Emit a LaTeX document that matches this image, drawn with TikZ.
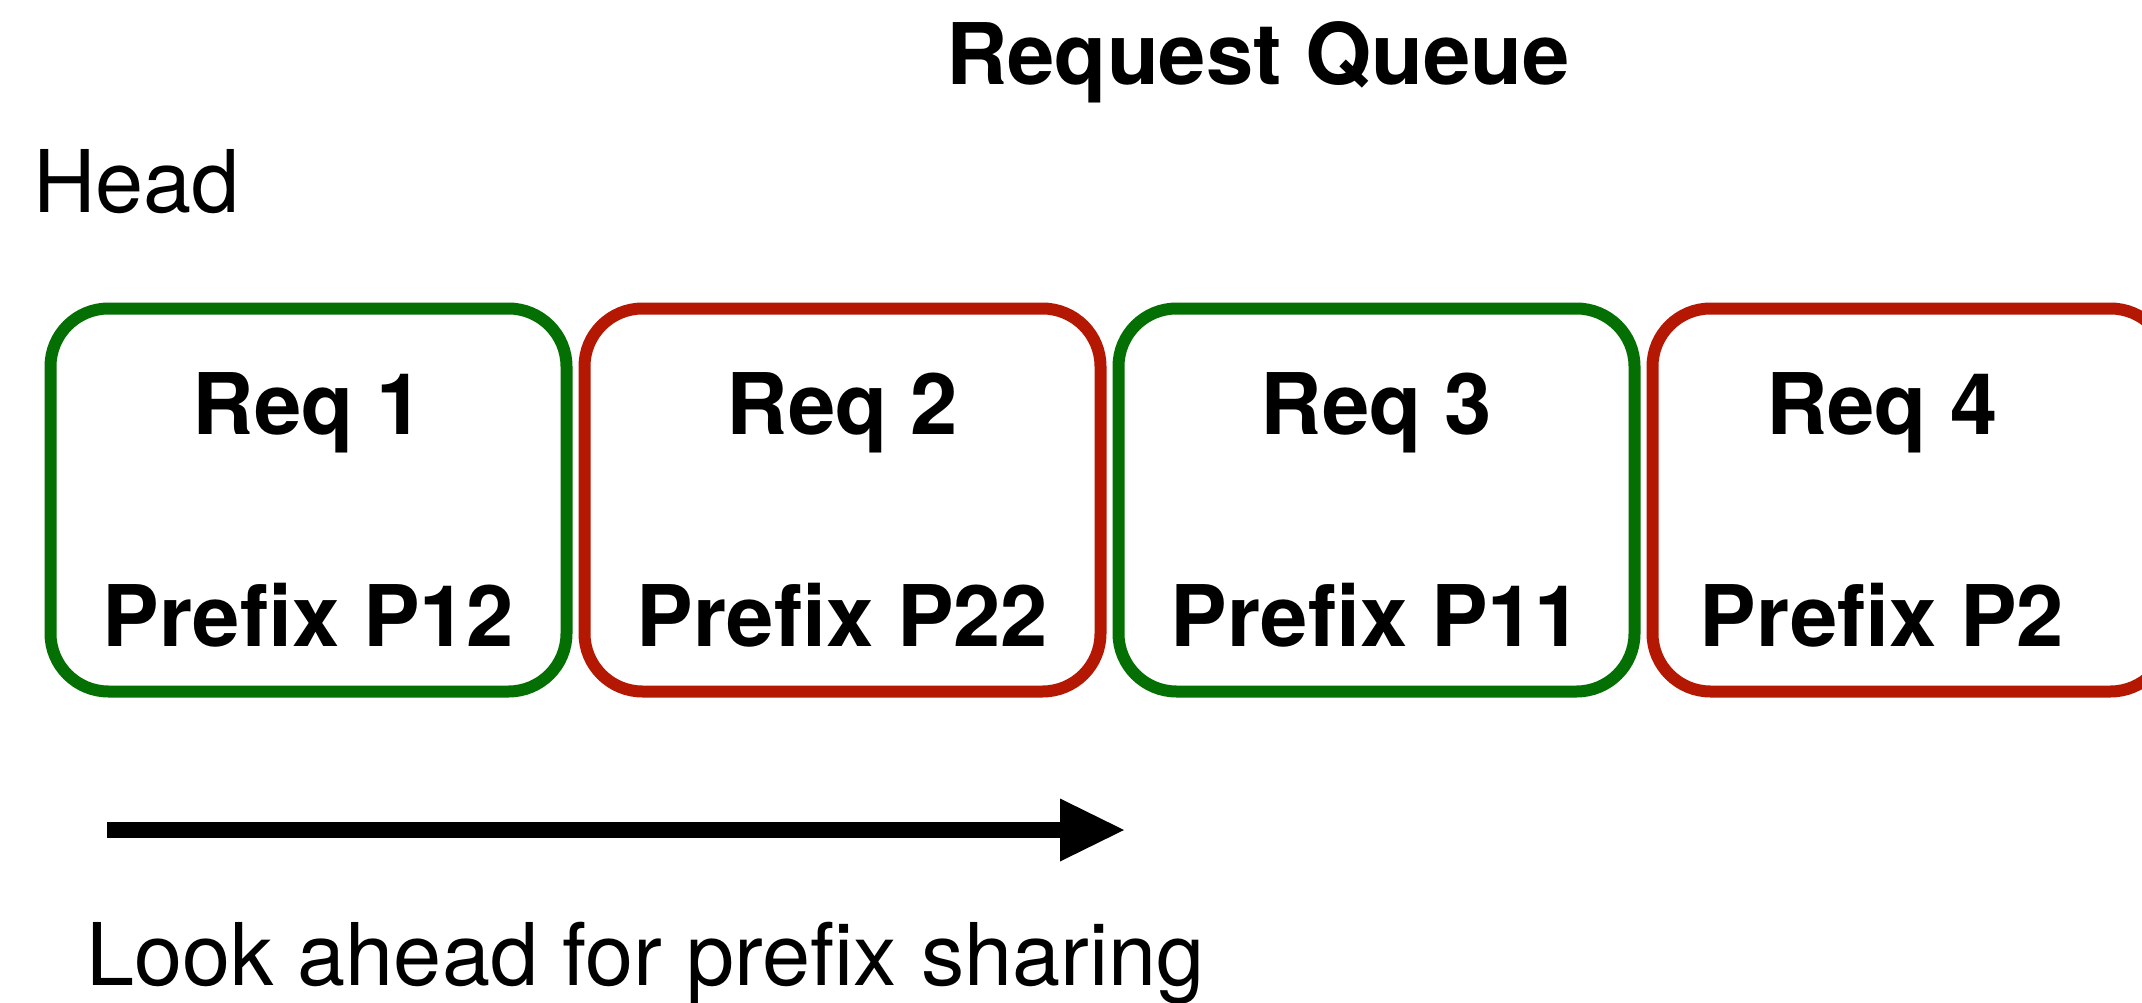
\documentclass[tikz,border=0pt]{standalone}
\usepackage{fontspec}
\setmainfont{TeX Gyre Heros}
\usetikzlibrary{arrows.meta}
\definecolor{reqgreen}{RGB}{4,112,4}
\definecolor{reqred}{RGB}{181,24,2}
\begin{document}
\begin{tikzpicture}[x=1pt, y=-1pt,
  reqbox/.style={draw, line width=12pt, rounded corners=58pt, fill=white,
    minimum width=516pt, minimum height=383pt, inner sep=0pt, outer sep=0pt},
  bigbold/.style={inner sep=0pt, anchor=base, font=\bfseries\fontsize{85}{100}\selectfont},
  bigplain/.style={inner sep=0pt, anchor=base west, font=\fontsize{86.5}{100}\selectfont}]
  \clip (0,0) rectangle (2142,1003);
  \fill[white] (0,0) rectangle (2142,1003);

  % title and head marker
  \node[bigbold] (title) at (1258,85) {Request Queue};
  \node[bigplain] (head) at (33,213) {Head};

  % queued requests
  \node[reqbox, draw=reqgreen] (r1) at (308.5,500) {};
  \node[reqbox, draw=reqred]   (r2) at (842.5,500) {};
  \node[reqbox, draw=reqgreen] (r3) at (1376.5,500) {};
  \node[reqbox, draw=reqred]   (r4) at (1910.5,500) {};

  \node[bigbold] (q1) at (308.5,434) {Req 1};
  \node[bigbold] (p1) at (308.5,646) {Prefix P12};
  \node[bigbold] (q2) at (842.5,434) {Req 2};
  \node[bigbold] (p2) at (842.5,646) {Prefix P22};
  \node[bigbold] (q3) at (1376.5,434) {Req 3};
  \node[bigbold] (p3) at (1376.5,646) {Prefix P11};
  \node[bigbold] (q4) at (1882,434) {Req 4};
  \node[bigbold] (p4) at (1882,646) {Prefix P2};

  % look-ahead arrow
  \coordinate (la) at (107,830);
  \coordinate (lb) at (1124,830);
  \draw[line width=15.7pt, -{Triangle[length=64pt, width=63pt, line width=0pt]}] (la) -- (lb);
  \node[bigplain] (look) at (86,985) {Look ahead for prefix sharing};
\end{tikzpicture}
\end{document}
